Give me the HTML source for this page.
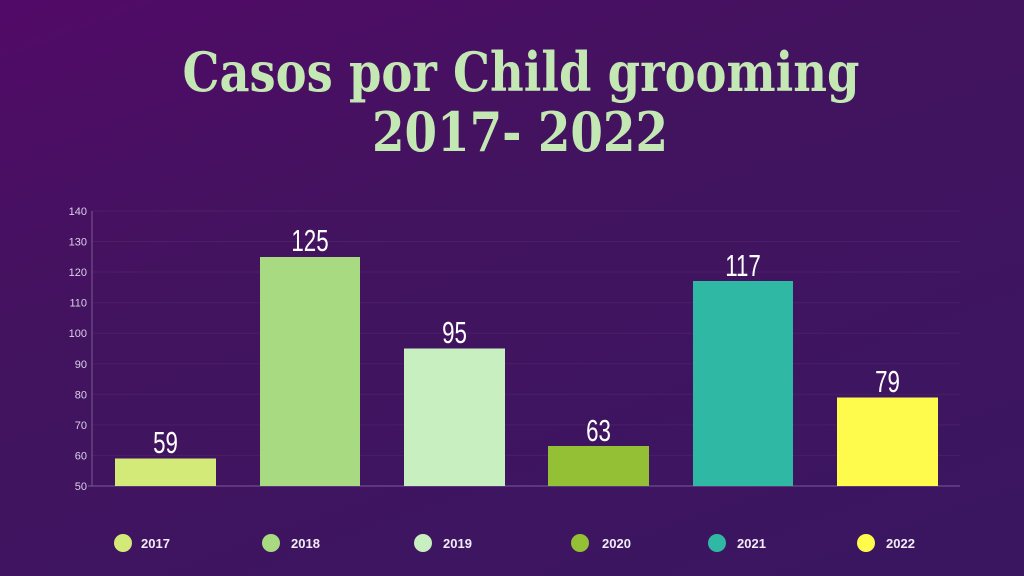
<!DOCTYPE html>
<html><head><style>
body{margin:0;width:1024px;height:576px;overflow:hidden;background:linear-gradient(160deg,#520a68 0%,#43135f 35%,#3a1660 100%);font-family:"Liberation Sans",sans-serif}
</style></head><body>
<svg width="1024" height="576" style="position:absolute;left:0;top:0">
<g font-family="DejaVu Serif,serif" font-weight="bold" font-size="54" fill="#c4e8b4" text-anchor="middle">
<text x="521" y="91" textLength="677" lengthAdjust="spacingAndGlyphs">Casos por Child grooming</text>
<text x="520" y="151" textLength="296" lengthAdjust="spacingAndGlyphs">2017- 2022</text>
</g>
<g stroke="#ffffff" stroke-opacity="0.05">
<line x1="92" x2="960" y1="211" y2="211"/><line x1="92" x2="960" y1="241.5" y2="241.5"/><line x1="92" x2="960" y1="272" y2="272"/><line x1="92" x2="960" y1="302.7" y2="302.7"/><line x1="92" x2="960" y1="333.2" y2="333.2"/><line x1="92" x2="960" y1="363.8" y2="363.8"/><line x1="92" x2="960" y1="394.3" y2="394.3"/><line x1="92" x2="960" y1="424.9" y2="424.9"/><line x1="92" x2="960" y1="455.4" y2="455.4"/>
</g>
<line x1="92" y1="211" x2="92" y2="486" stroke="#7a5a95"/>
<line x1="88" y1="486" x2="960" y2="486" stroke="#7a5a95"/>
<g font-size="11" fill="#ddd0ea" text-anchor="end">
<text x="87" y="215">140</text><text x="87" y="245.5">130</text><text x="87" y="276">120</text><text x="87" y="306.7">110</text><text x="87" y="337.2">100</text><text x="87" y="367.8">90</text><text x="87" y="398.3">80</text><text x="87" y="428.9">70</text><text x="87" y="459.4">60</text><text x="87" y="490">50</text>
</g>
<rect x="115" y="458.5" width="101" height="27.5" fill="#d4ea78"/>
<rect x="260" y="257" width="100" height="229" fill="#a8da82"/>
<rect x="404" y="348.5" width="101" height="137.5" fill="#c8efc0"/>
<rect x="548" y="446" width="101" height="40" fill="#93c034"/>
<rect x="693" y="281" width="100" height="205" fill="#2fb8a4"/>
<rect x="837" y="397.5" width="101" height="88.5" fill="#fffb4c"/>
<g font-size="31" fill="#ffffff" text-anchor="middle">
<text transform="translate(165.5,453) scale(0.72,1)">59</text>
<text transform="translate(310,251) scale(0.72,1)">125</text>
<text transform="translate(454.5,343) scale(0.72,1)">95</text>
<text transform="translate(598.5,441) scale(0.72,1)">63</text>
<text transform="translate(743,276) scale(0.72,1)">117</text>
<text transform="translate(887.5,392) scale(0.72,1)">79</text>
</g>
<g font-size="13" font-weight="bold" fill="#f2ecf8">
<circle cx="123" cy="543" r="9" fill="#d4ea78"/><text x="141" y="548">2017</text>
<circle cx="271" cy="543" r="9" fill="#a8da82"/><text x="291" y="548">2018</text>
<circle cx="423" cy="543" r="9" fill="#c8efc0"/><text x="443" y="548">2019</text>
<circle cx="580" cy="543" r="9" fill="#93c034"/><text x="602" y="548">2020</text>
<circle cx="717" cy="543" r="9" fill="#2fb8a4"/><text x="737" y="548">2021</text>
<circle cx="866" cy="543" r="9" fill="#fffb4c"/><text x="886" y="548">2022</text>
</g>
</svg>
</body></html>
